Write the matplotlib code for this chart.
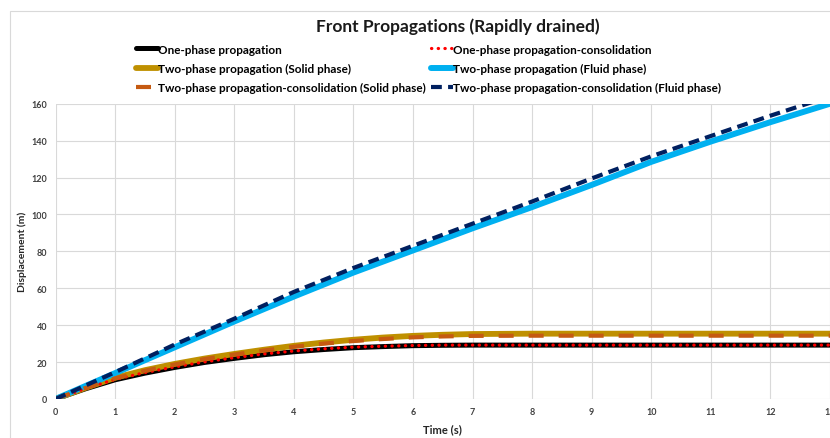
import matplotlib
matplotlib.use("Agg")
import matplotlib.pyplot as plt
from matplotlib.patches import Rectangle

plt.rcParams['font.family'] = ['Lato', 'DejaVu Sans']

# time axes (s)
t_solid = [0, 0.5, 1, 1.5, 2, 2.5, 3, 3.5, 4, 4.5, 5, 5.5, 6, 6.5, 7, 8, 9, 10, 11, 12, 13]
t_fluid = [0, 1, 2, 3, 4, 5, 6, 7, 8, 9, 10, 11, 12, 13]

# displacements (m)
one_phase = [0, 5.5, 10.4, 14.0, 17.1, 19.8, 22.0, 24.0, 25.6, 26.8, 27.8, 28.4, 28.9, 29.1, 29.2,
             29.2, 29.2, 29.2, 29.2, 29.2, 29.2]
one_phase_cons = [0, 5.6, 10.6, 14.3, 17.4, 20.1, 22.4, 24.4, 26.0, 27.2, 28.1, 28.6, 29.0, 29.2, 29.2,
                  29.2, 29.2, 29.2, 29.2, 29.2, 29.2]
two_phase_solid = [0, 6.0, 11.5, 15.6, 19.0, 21.9, 24.4, 26.7, 28.8, 30.6, 32.1, 33.3, 34.2, 34.8, 35.2,
                   35.4, 35.4, 35.4, 35.4, 35.4, 35.4]
two_phase_cons_solid = [0, 5.9, 11.2, 15.3, 18.7, 21.6, 24.1, 26.3, 28.3, 30.0, 31.4, 32.5, 33.4, 33.9, 34.2,
                        34.3, 34.3, 34.3, 34.3, 34.3, 34.3]
two_phase_fluid = [0, 14.0, 28.0, 42.0, 55.5, 68.5, 80.5, 92.5, 104.0, 116.0, 128.5, 139.5, 150.0, 160.0]
two_phase_cons_fluid = [0, 14.5, 29.5, 43.5, 58.0, 71.0, 83.0, 95.0, 107.0, 119.5, 131.5, 142.5, 153.5, 164.0]

labels = ["One-phase propagation",
          "One-phase propagation-consolidation",
          "Two-phase propagation (Solid phase)",
          "Two-phase propagation (Fluid phase)",
          "Two-phase propagation-consolidation (Solid phase)",
          "Two-phase propagation-consolidation (Fluid phase)"]

W, H = 830, 439
fig = plt.figure(figsize=(W / 100, H / 100), dpi=100)
ax = fig.add_axes([55.5 / W, 1 - 400 / H, (830 - 55.5) / W, (400 - 104.7) / H])

# chart area border
fig.patches.append(Rectangle((9.5 / W, -0.1), 1.1, 1 - 12 / H + 0.1, transform=fig.transFigure,
                             fill=False, edgecolor='#D9D9D9', lw=0.8, zorder=0))

l1, = ax.plot(t_solid, one_phase, color='black', lw=3.6, solid_capstyle='round', zorder=3)
l2, = ax.plot(t_solid, one_phase_cons, color='#FF0000', lw=2.3, linestyle=(0, (0.1, 2.0)),
              dash_capstyle='round', zorder=4)
l3, = ax.plot(t_solid, two_phase_solid, color='#BF9000', lw=4.2, solid_capstyle='round', zorder=3)
l5, = ax.plot(t_solid, two_phase_cons_solid, color='#C55A11', lw=3.0, linestyle=(0, (3.6, 3.6)), zorder=4)
l4, = ax.plot(t_fluid, two_phase_fluid, color='#00B0F0', lw=4.3, solid_capstyle='round', zorder=3)
l6, = ax.plot(t_fluid, two_phase_cons_fluid, color='#002060', lw=3.0, linestyle=(0, (2.6, 1.5)), zorder=4)

ax.set_xlim(0, 13)
ax.set_ylim(0, 160)
ax.set_xticks(range(0, 14))
ax.set_yticks(range(0, 161, 20))
ax.grid(True, color='#D9D9D9', lw=0.8)
ax.set_axisbelow(True)
for s in ax.spines.values():
    s.set_visible(False)
ax.tick_params(length=0, labelsize=6.5, labelcolor='#404040', pad=6)
for lab in ax.get_xticklabels() + ax.get_yticklabels():
    lab.set_fontweight('bold')

ax.set_xlabel("Time (s)", fontsize=8, fontweight='bold', color='#262626', labelpad=5)
ax.set_ylabel("Displacement (m)", fontsize=7.5, fontweight='bold', color='#262626', labelpad=3)

fig.text(458 / W, 1 - 27 / H, "Front Propagations (Rapidly drained)", ha='center', va='center',
         fontsize=12.5, fontweight='bold', color='#1a1a1a')

leg = fig.legend([l1, l3, l5, l2, l4, l6],
                 [labels[0], labels[2], labels[4], labels[1], labels[3], labels[5]],
                 ncol=2, loc='upper left', bbox_to_anchor=(125 / W, 1 - 34 / H),
                 frameon=False, handlelength=1.9, handletextpad=0.0, columnspacing=0.4,
                 labelspacing=0.7, prop={'weight': 'bold', 'size': 8.5})

fig.savefig("out.png", dpi=100)
